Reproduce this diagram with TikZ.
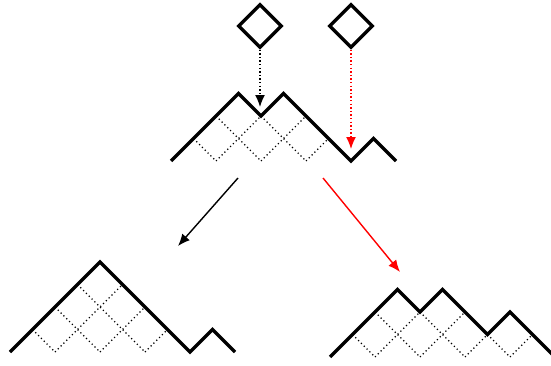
\documentclass[tikz,border=0pt]{standalone}
\usetikzlibrary{shapes.geometric,arrows.meta}
\begin{document}
\begin{tikzpicture}[x=1pt,y=1pt,
  dyck/.style={line width=3.3pt, line join=miter},
  cellline/.style={line width=1.2pt, dash pattern=on 1.2pt off 2.8pt},
  tile/.style={draw, diamond, line width=3.3pt, minimum width=44pt, minimum height=44pt, inner sep=0pt},
  conn/.style={line width=1.4pt, -{Latex[length=12pt,width=10pt]}},
  dotconn/.style={conn, dash pattern=on 1.4pt off 2.2pt},
]
\useasboundingbox (0,0) rectangle (551,365);

% top figure
\begin{scope}[shift={(171,204)}, x=22.5pt, y=22.5pt]
  \draw[cellline] (1,1)--(2,0) (2,2)--(4,0) (4,2)--(6,0)
                  (2,0)--(4,2) (4,0)--(6,2) (6,0)--(7,1);
  \draw[dyck] (0,0)--(1,1)--(2,2)--(3,3)--(4,2)--(5,3)--(6,2)--(7,1)--(8,0)--(9,1)--(10,0);
\end{scope}

% bottom-left figure
\begin{scope}[shift={(10,13)}, x=22.5pt, y=22.5pt]
  \draw[cellline] (1,1)--(2,0) (2,2)--(4,0) (3,3)--(6,0)
                  (2,0)--(5,3) (4,0)--(6,2) (6,0)--(7,1);
  \draw[dyck] (0,0)--(4,4)--(8,0)--(9,1)--(10,0);
\end{scope}

% bottom-right figure
\begin{scope}[shift={(330,8)}, x=22.5pt, y=22.5pt]
  \draw[cellline] (1,1)--(2,0) (2,2)--(4,0) (4,2)--(6,0) (7,1)--(8,0)
                  (2,0)--(4,2) (4,0)--(6,2) (6,0)--(7,1) (8,0)--(9,1);
  \draw[dyck] (0,0)--(3,3)--(4,2)--(5,3)--(7,1)--(8,2)--(10,0);
\end{scope}

% tiles
\node[tile] (tileA) at (260,339) {};
\node[tile] (tileB) at (351,339) {};

\coordinate (endA) at (260,258);
\coordinate (endB) at (351,216);
\draw[dotconn] (tileA.south) -- (endA);
\draw[dotconn, red] (tileB.south) -- (endB);

% middle arrows
\coordinate (startL) at (238,187);
\coordinate (endL) at (178,119);
\coordinate (startR) at (323,187);
\coordinate (endR) at (400,93);
\draw[conn] (startL) -- (endL);
\draw[conn, red] (startR) -- (endR);
\end{tikzpicture}
\end{document}
